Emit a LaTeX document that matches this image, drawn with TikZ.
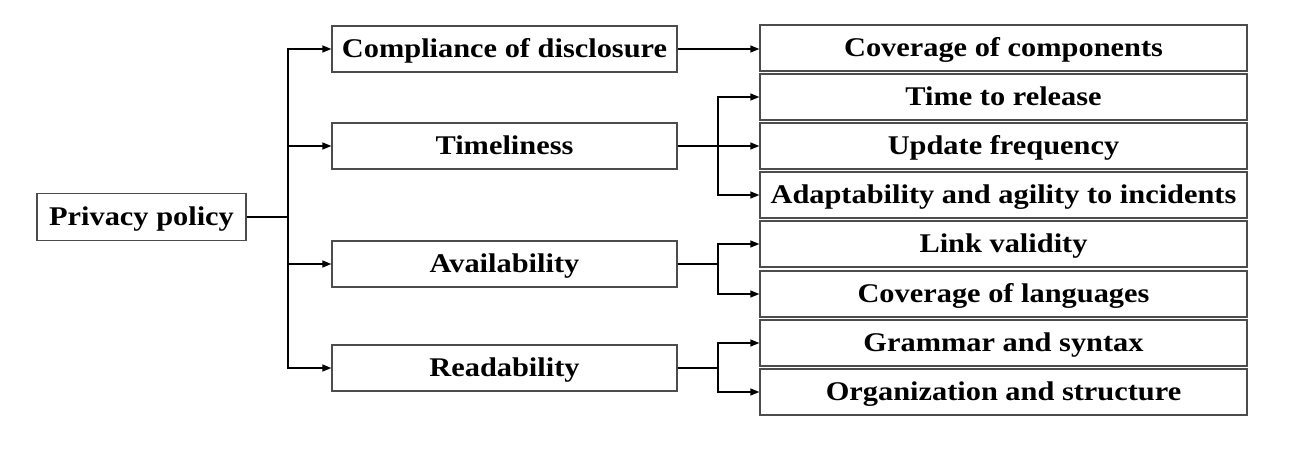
\documentclass[tikz,border=0pt]{standalone}
\usepackage{fontspec}
\setmainfont{Liberation Serif}
\newfontfamily\boxfont{Liberation Serif}[FakeStretch=1.125]
\usetikzlibrary{arrows.meta}
\begin{document}
\begin{tikzpicture}[x=1pt,y=-1pt,
  box/.style={draw=black!70,line width=1.3pt,inner sep=0pt,text height=17.5pt,text depth=0pt,
    font=\boxfont\fontsize{27}{30}\selectfont\bfseries},
  lvone/.style={box,minimum width=209pt,minimum height=47pt},
  lvtwo/.style={box,minimum width=345pt,minimum height=46pt},
  lvthree/.style={box,minimum width=487pt,minimum height=46pt},
  conn/.style={line width=1.3pt,-{Triangle[length=9pt,width=7pt]}}]
\useasboundingbox (0,0) rectangle (1300,452);
\node[lvone] (pp) at (141.5,217) {Privacy policy};
\node[lvtwo] (cd) at (504.5,49) {Compliance of disclosure};
\node[lvtwo] (tl) at (504.5,146) {Timeliness};
\node[lvtwo] (av) at (504.5,264) {Availability};
\node[lvtwo] (rd) at (504.5,368) {Readability};
\node[lvthree] (cc) at (1003.5,48) {Coverage of components};
\node[lvthree] (tr) at (1003.5,97) {Time to release};
\node[lvthree] (uf) at (1003.5,146) {Update frequency};
\node[lvthree] (aa) at (1003.5,195) {Adaptability and agility to incidents};
\node[lvthree] (lv) at (1003.5,244) {Link validity};
\node[lvthree] (cl) at (1003.5,294) {Coverage of languages};
\node[lvthree] (gs) at (1003.5,343) {Grammar and syntax};
\node[lvthree] (os) at (1003.5,392) {Organization and structure};
\coordinate (trunk) at (288,0);
\coordinate (br) at (718,0);
\foreach \t in {cd,tl,av,rd}
  \draw[conn] (pp.east) -- (pp.east -| trunk) |- (\t.west);
\draw[conn] (cd.east) -- (cd.east -| cc.west);
\foreach \t in {tr,uf,aa}
  \draw[conn] (tl.east) -- (tl.east -| br) |- (\t.west);
\foreach \t in {lv,cl}
  \draw[conn] (av.east) -- (av.east -| br) |- (\t.west);
\foreach \t in {gs,os}
  \draw[conn] (rd.east) -- (rd.east -| br) |- (\t.west);
\end{tikzpicture}
\end{document}
